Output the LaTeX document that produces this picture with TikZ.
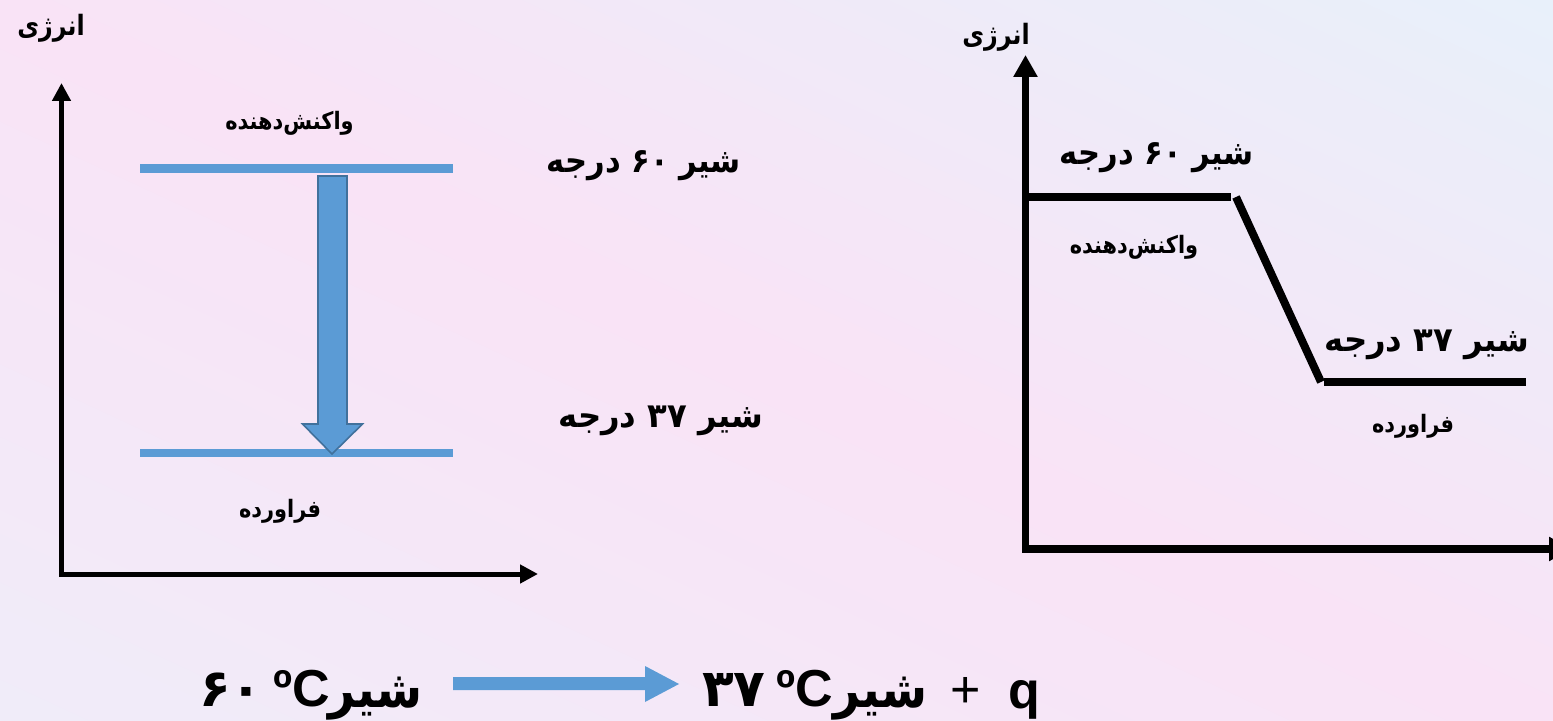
\documentclass[tikz,border=0pt]{standalone}
\usepackage{fontspec}
\setmainfont{Liberation Sans}
\newfontfamily\fa[Script=Arabic]{DejaVu Sans}
\TeXXeTstate=1
\usetikzlibrary{arrows.meta}
\definecolor{bluel}{HTML}{5B9BD5}
\definecolor{bluee}{HTML}{41719C}
\definecolor{bgpink}{HTML}{F9E3F6}
\definecolor{bgblue}{HTML}{E8F0FA}
\definecolor{bglav}{HTML}{F0ECF9}
\tikzset{
  axisL/.style={line width=2.5pt, line join=miter,
    {Triangle[length=9pt,width=9pt]}-{Triangle[length=9pt,width=9pt]}},
  axisR/.style={line width=3.8pt, line join=miter,
    {Triangle[length=11pt,width=11.5pt]}-{Triangle[length=11pt,width=11.5pt]}},
  level/.style={line width=4.2pt, bluel},
  prof/.style={line width=4pt, black},
  lblE/.style={inner sep=0pt, xscale=0.85, transform shape, font=\fa\bfseries\fontsize{14}{16}\selectfont},
  lblA/.style={inner sep=0pt, xscale=0.87, transform shape, font=\fa\bfseries\fontsize{12}{14}\selectfont},
  lblB/.style={inner sep=0pt, transform shape, font=\fa\bfseries\fontsize{17}{20}\selectfont},
  lblC/.style={inner sep=0pt, font=\fa\bfseries\fontsize{26}{30}\selectfont},
  latC/.style={inner sep=0pt, font=\bfseries\fontsize{26}{30}\selectfont},
}
\begin{document}
\begin{tikzpicture}[x=0.5pt,y=-0.5pt]
\useasboundingbox (0,0) rectangle (1553,721);
\clip (0,0) rectangle (1553,721);
\begin{scope}[shift={(776.5,360.5)}, rotate=-24.9]
\foreach \i in {0,...,59}{
  \pgfmathtruncatemacro{\pa}{min(100,round(\i*200/59))}
  \pgfmathtruncatemacro{\pb}{max(0,round(\i*200/59-100))}
  \ifnum\i<30
    \colorlet{bandc}{bgpink!\pa!bglav}
  \else
    \colorlet{bandc}{bgblue!\pb!bgpink}
  \fi
  \fill[bandc] (-880,{660-\i*22}) rectangle (880,{660-\i*22-23});
}
\end{scope}

% ---------- left diagram ----------
\coordinate (LO) at (61.5,574);
\coordinate (LY) at (61.5,83);
\coordinate (LX) at (538,574);
\draw[axisL] (LY) -- (LO) -- (LX);

\coordinate (T1) at (140,168.5);
\coordinate (T2) at (453,168.5);
\coordinate (B1) at (140,453);
\coordinate (B2) at (453,453);
\draw[level] (T1) -- (T2);
\draw[level] (B1) -- (B2);

\draw[fill=bluel, draw=bluee, line width=0.8pt, line join=miter]
  (318,176) -- (347,176) -- (347,424) -- (362.5,424) -- (332,454)
  -- (302.5,424) -- (318,424) -- cycle;

\node[lblE] (lE) at (51,28) {\beginR انرژی\endR};
\node[lblA] (lR) at (289.5,123) {\beginR واکنش^^^^200cدهنده\endR};
\node[lblB, xscale=0.9] (l60) at (644,166) {\beginR شیر \beginL۶۰\endL{} درجه\endR};
\node[lblB, xscale=0.95] (l37) at (661,421) {\beginR شیر \beginL۳۷\endL{} درجه\endR};
\node[lblA] (lP) at (280,511) {\beginR فراورده\endR};

% ---------- right diagram ----------
\coordinate (RO) at (1025.5,549);
\coordinate (RY) at (1025.5,55);
\coordinate (RX) at (1571,549);
\draw[axisR] (RY) -- (RO) -- (RX);

\coordinate (P1) at (1025.5,197);
\coordinate (P2) at (1231,197);
\coordinate (P3) at (1236,197);
\coordinate (P4) at (1321,382);
\coordinate (P5) at (1324,382);
\coordinate (P6) at (1526,382);
\draw[prof] (P1) -- (P2);
\draw[prof] (P3) -- (P4);
\draw[prof] (P5) -- (P6);

\node[lblE] (rE) at (996,37) {\beginR انرژی\endR};
\node[lblB, xscale=0.9] (r60) at (1157,158) {\beginR شیر \beginL۶۰\endL{} درجه\endR};
\node[lblA] (rR) at (1134,247) {\beginR واکنش^^^^200cدهنده\endR};
\node[lblB, xscale=0.95] (r37) at (1427,345) {\beginR شیر \beginL۳۷\endL{} درجه\endR};
\node[lblA] (rP) at (1413,426) {\beginR فراورده\endR};

% ---------- equation ----------
\node[lblC] (e1n) at (231,690) {۶۰};
\node[latC] (e1c) at (302,689) {ºC};
\node[lblC, anchor=west, xscale=0.9, transform shape] (e1s) at (328,699) {\beginR شیر\endR};
\fill[bluel] (453,677) -- (645,677) -- (645,666) -- (679,684) -- (645,702)
  -- (645,690) -- (453,690) -- cycle;
\node[lblC] (e2n) at (734,690) {۳۷};
\node[latC] (e2c) at (805,689) {ºC};
\node[lblC, anchor=west, xscale=0.9, transform shape] (e2s) at (833,699) {\beginR شیر\endR};
\node[inner sep=0pt, font=\fontsize{26}{30}\selectfont] (plus) at (966,692) {+};
\node[latC] (q) at (1024,700) {q};
\end{tikzpicture}
\end{document}
